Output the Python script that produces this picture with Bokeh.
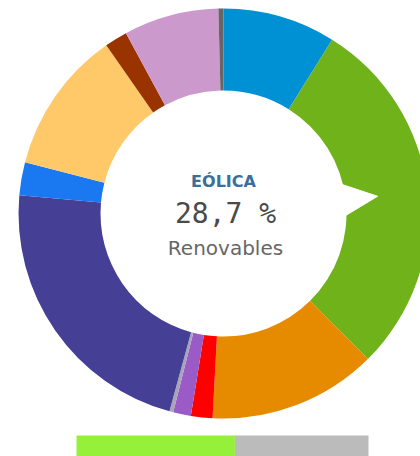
import math
from bokeh.plotting import figure
from bokeh.models import Range1d, ColumnDataSource
from bokeh.core.properties import value
from bokeh.embed import file_html
from bokeh.resources import INLINE

# ---- data (percent of generation, clockwise from 12 o'clock) ----
categories = ["Hidráulica", "Eólica", "Solar fotovoltaica", "Solar térmica",
              "Otras renovables", "Residuos renovables", "Nuclear",
              "Turbinación bombeo", "Ciclo combinado", "Carbón",
              "Cogeneración", "Residuos no renovables"]
values = [8.9, 28.7, 13.3, 1.7, 1.4, 0.3, 22.2, 2.6, 11.3, 1.8, 7.5, 0.4]
renewable = [True, True, True, True, True, True, False, False, False, False, False, False]
colors = ["#0090d4", "#70b21a", "#e68a00", "#ff0000", "#9b5bc6", "#a6a6b8",
          "#463f96", "#1a78f0", "#ffc869", "#993300", "#cc99cc", "#666666"]
selected = "Eólica"
center_title = "EÓLICA"
center_value = "28,7 %"
center_sub = "Renovables"

# ---- geometry ----
W, H = 420, 456
CX, CY = 223, 213          # donut centre in canvas pixels
R_IN, R_OUT = 123, 205

total = sum(values)
starts, ends = [], []
acc = 0.0
for v in values:
    a0 = acc / total * 2 * math.pi
    acc += v
    a1 = acc / total * 2 * math.pi
    starts.append(math.pi / 2 - a0)
    ends.append(math.pi / 2 - a1)

src = ColumnDataSource(dict(cat=categories, val=values, start=starts, end=ends, color=colors))

p = figure(width=W, height=H, x_range=Range1d(-CX, W - CX), y_range=Range1d(CY - H, CY),
           output_backend="svg", toolbar_location=None, min_border=0)
p.axis.visible = False
p.grid.visible = False
p.outline_line_color = None
p.background_fill_color = "white"
p.border_fill_color = "white"

p.annular_wedge(x=0, y=0, inner_radius=R_IN, outer_radius=R_OUT,
                start_angle="start", end_angle="end", direction="clock",
                color="color", line_color=None, source=src)

# pointer toward middle of the selected slice
i = categories.index(selected)
cum = sum(values[:i])
mid = (cum + values[i] / 2) / total * 2 * math.pi   # clockwise from top
ux, uy = math.sin(mid), math.cos(mid)
nx, ny = math.cos(mid), -math.sin(mid)
base_r, tip_r, half_w = R_IN - 6, 155, 17.5
p.patch(x=[ux * base_r + nx * half_w, ux * tip_r, ux * base_r - nx * half_w],
        y=[uy * base_r + ny * half_w, uy * tip_r, uy * base_r - ny * half_w],
        color="white", line_color="white", line_width=1)

# centre texts
p.text(x=[0], y=[32], text=[center_title], text_align="center", text_baseline="alphabetic",
       text_font=value("DejaVu Sans"), text_font_style="bold", text_font_size="16px",
       text_color="#3b6e99")
p.text(x=[2], y=[0], text=[center_value], text_align="center", text_baseline="alphabetic",
       text_font=value("DejaVu Sans Mono"), text_font_size="28px", text_color="#4a4a4a")
p.text(x=[2], y=[-34], text=[center_sub], text_align="center", text_baseline="alphabetic",
       text_font=value("DejaVu Sans"), text_font_size="20px", text_color="#666666")

# renewable share bar
ren = sum(v for v, r in zip(values, renewable) if r)
frac = ren / total
BAR_L, BAR_W = -147, 292
BAR_TOP = -222
p.quad(left=[BAR_L], right=[BAR_L + BAR_W * frac], top=[BAR_TOP], bottom=[BAR_TOP - 40],
       color="#95f03a", line_color=None)
p.quad(left=[BAR_L + BAR_W * frac], right=[BAR_L + BAR_W], top=[BAR_TOP], bottom=[BAR_TOP - 40],
       color="#bbbbbb", line_color=None)

open("out.html", "w").write(file_html(p, INLINE))
